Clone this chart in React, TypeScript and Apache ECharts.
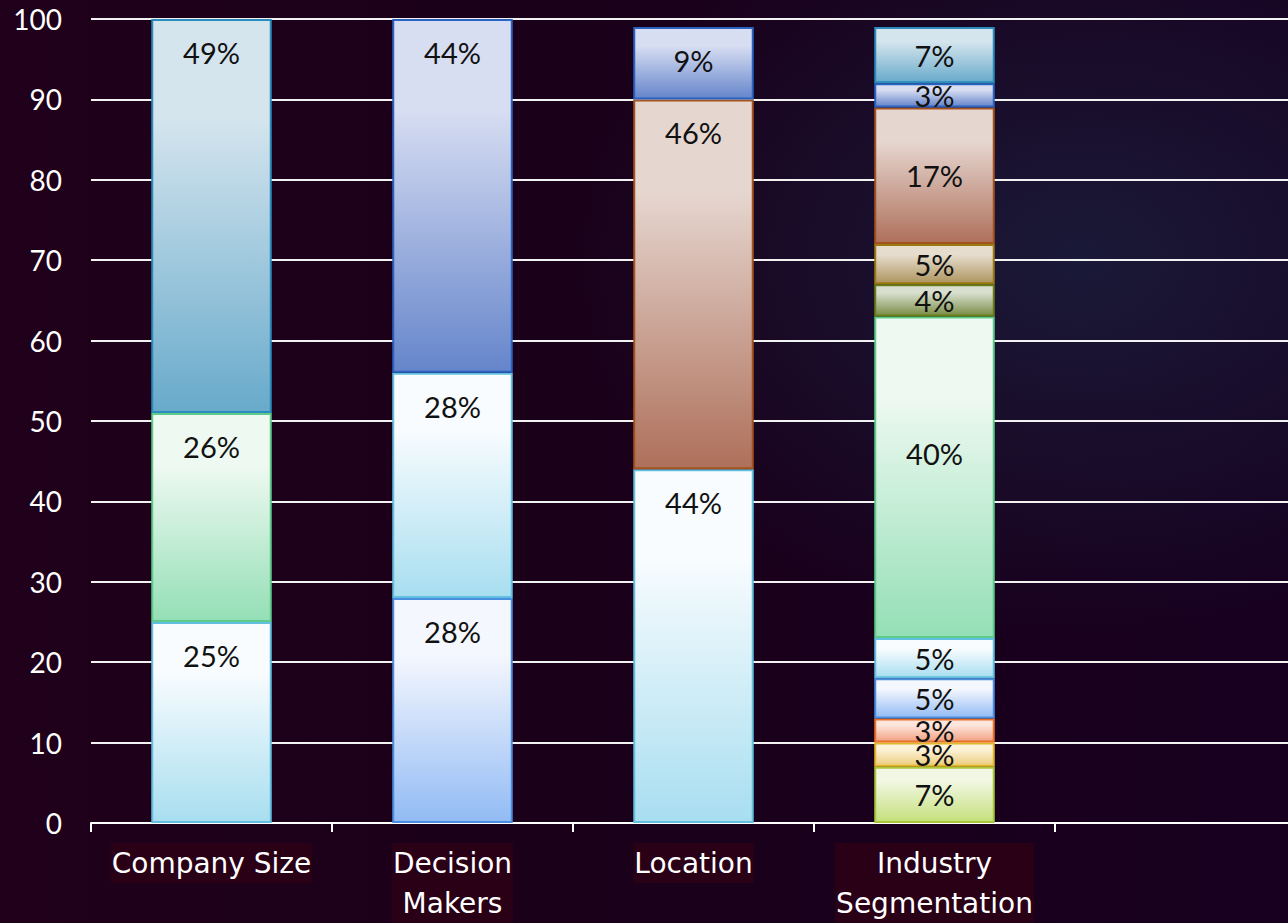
import React, { useEffect, useRef } from "react";
import * as echarts from "echarts";

const categories = ["Company Size", "Decision Makers", "Location", "Industry Segmentation", ""];

// segment values, bottom to top, per category (percent)
const companySize = [25, 26, 49];
const decisionMakers = [28, 28, 44];
const location = [44, 46, 9];
const industrySegmentation = [7, 3, 3, 5, 5, 40, 4, 5, 17, 3, 7];

const yTicks = [0, 10, 20, 30, 40, 50, 60, 70, 80, 90, 100];

// styles: [topColor, bottomColor, borderColor]
const CYAN = ["#f8fcfe", "#a8def0", "#62bfe0"];
const GREEN = ["#eef9f1", "#94dfb6", "#5ccb8c"];
const TEAL = ["#d4e5ee", "#68aacb", "#2a8cbc"];
const BLUE = ["#f5f7fe", "#92bbf4", "#4a8ee2"];
const PERI = ["#d8def2", "#6585cb", "#2a62c2"];
const BROWN = ["#e6d6d0", "#ae705a", "#a4521e"];
const LIME = ["#f1f7e2", "#c4e07a", "#a8c838"];
const YELLOW = ["#fdf3da", "#ebcd7c", "#e2b828"];
const ORANGE = ["#fde6dd", "#f0a080", "#ea702a"];
const OLIVE = ["#d8dfcf", "#7a8e46", "#6a7e18"];
const TAN = ["#e6ddce", "#ae945e", "#9a7a10"];

const palettes = [
  [CYAN, GREEN, TEAL],
  [BLUE, CYAN, PERI],
  [CYAN, BROWN, PERI],
  [LIME, YELLOW, ORANGE, BLUE, CYAN, GREEN, OLIVE, TAN, BROWN, PERI, TEAL],
];

const segments = [companySize, decisionMakers, location, industrySegmentation];

const FONT = "Lato";

export default function App() {
  const ref = useRef<HTMLDivElement>(null);
  useEffect(() => {
    if (!ref.current) return;
    const chart = echarts.init(ref.current, undefined, { renderer: "svg" });
    const maxSeg = Math.max(...segments.map((s) => s.length));
    const series: any[] = [];
    for (let i = 0; i < maxSeg; i++) {
      series.push({
        type: "bar",
        stack: "total",
        barWidth: "50%",
        data: categories.map((_, ci) => {
          const seg = segments[ci];
          if (!seg || seg[i] === undefined) return "-";
          const p = palettes[ci][i];
          const big = ci === 3 && seg[i] >= 30;
          return {
            value: seg[i],
            itemStyle: {
              color: new echarts.graphic.LinearGradient(0, 0, 0, 1, [
                { offset: 0, color: p[0] },
                { offset: 0.25, color: p[0] },
                { offset: 1, color: p[1] },
              ]),
              borderColor: p[2],
              borderWidth: 2,
            },
            label: {
              show: true,
              position: ci === 3 ? "inside" : "insideTop",
              distance: 19,
              offset: big ? [0, -24] : [0, 0],
              formatter: "{c}%",
              color: "#111",
              fontFamily: FONT,
              fontSize: 29,
            },
          };
        }),
      });
    }
    chart.setOption({
      animation: false,
      backgroundColor: "transparent",
      grid: { left: 91, right: 0, top: 19, bottom: 99, containLabel: false },
      xAxis: {
        type: "category",
        data: categories,
        axisLine: { lineStyle: { color: "#ffffff", width: 2 } },
        axisTick: { show: true, length: 9, lineStyle: { color: "#ffffff", width: 2 } },
        axisLabel: {
          color: "#ffffff",
          fontFamily: "DejaVu Sans",
          fontSize: 28,
          lineHeight: 40,
          margin: 20,
          align: "center",
          formatter: (v: string) => (v.length > 13 ? v.replace(" ", "\n") : v),
          backgroundColor: "#2a0017",
          padding: [0, 1],
          interval: 0,
        },
      },
      yAxis: {
        type: "value",
        min: yTicks[0],
        max: yTicks[yTicks.length - 1],
        interval: yTicks[1] - yTicks[0],
        axisLine: { show: false },
        axisTick: { show: false },
        axisLabel: { color: "#ffffff", fontFamily: FONT, fontSize: 28, margin: 29 },
        splitLine: { lineStyle: { color: "#f2f2f2", width: 2 } },
      },
      series,
    });
    return () => chart.dispose();
  }, []);
  return (
    <div
      style={{
        position: "fixed",
        left: 0,
        top: 0,
        width: 1288,
        height: 923,
        overflow: "hidden",
        background:
          "radial-gradient(ellipse 520px 380px at 1080px 260px, rgba(26,28,58,0.9), rgba(26,28,58,0) 100%), linear-gradient(90deg, #20001a 0%, #1a0019 45%, #170020 100%)",
      }}
    >
      <div ref={ref} style={{ position: "absolute", left: 0, top: 0, width: 1296, height: 923 }} />
    </div>
  );
}
